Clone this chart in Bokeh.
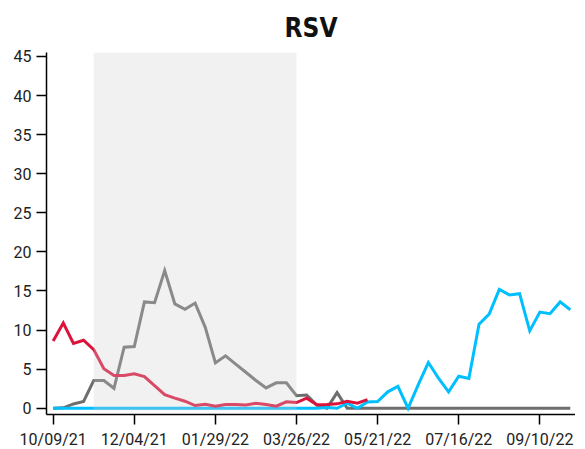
import datetime as dt
from bokeh.plotting import figure
from bokeh.models import Range1d, FixedTicker, DatetimeTickFormatter
from bokeh.embed import file_html
from bokeh.resources import INLINE

# ---- data ----
start = dt.datetime(2021, 10, 9)
weeks = [start + dt.timedelta(days=7 * i) for i in range(52)]

red_vals = [8.6, 10.9, 8.3, 8.7, 7.5, 5.05, 4.2, 4.2, 4.4, 4.05, 2.9, 1.75, 1.3, 0.9,
            0.35, 0.5, 0.26, 0.47, 0.47, 0.43, 0.64, 0.47, 0.26, 0.82, 0.73, 1.28,
            0.44, 0.47, 0.56, 0.9, 0.64, 1.1]
gray_vals = [0, 0.05, 0.55, 0.86, 3.55, 3.55, 2.55, 7.8, 7.9, 13.6, 13.5, 17.6, 13.35,
             12.65, 13.45, 10.35, 5.8, 6.7, 5.65, 4.6, 3.55, 2.6, 3.25, 3.25, 1.6, 1.7,
             0.4, 0, 2.0, 0, 0, 0, 0, 0, 0, 0, 0, 0, 0, 0, 0, 0, 0, 0, 0, 0, 0, 0, 0,
             0, 0, 0]
blue_vals = [0, 0, 0, 0, 0, 0, 0, 0, 0, 0, 0, 0, 0, 0, 0, 0, 0, 0, 0, 0, 0, 0, 0, 0,
             0, 0, 0, 0.1, 0, 0.64, 0, 0.8, 0.85, 2.1, 2.8, 0, 3.0, 5.85, 3.85, 2.1,
             4.1, 3.8, 10.75, 12.05, 15.2, 14.5, 14.65, 9.9, 12.3, 12.1, 13.6, 12.6]

tick_labels = ["10/09/21", "12/04/21", "01/29/22", "03/26/22", "05/21/22", "07/16/22", "09/10/22"]
y_ticks = [0, 5, 10, 15, 20, 25, 30, 35, 40, 45]
season_start = dt.datetime(2021, 11, 6)
season_end = dt.datetime(2022, 3, 26)

# ---- figure ----
epoch = dt.datetime(1970, 1, 1)
def ms(d):
    return (d - epoch).total_seconds() * 1000.0

tick_dates = [dt.datetime.strptime(t, "%m/%d/%y") for t in tick_labels]

p = figure(
    output_backend="svg", toolbar_location=None,
    frame_width=529, frame_height=362,
    x_axis_type="datetime",
    x_range=Range1d(start - dt.timedelta(days=4.6), start + dt.timedelta(days=360.6)),
    y_range=Range1d(-0.8, 45.5),
    min_border_left=0, min_border_right=0, min_border_top=0, min_border_bottom=0,
)
p.margin = (0, 0, 0, 10)
p.background_fill_color = "white"
p.border_fill_color = "white"
p.outline_line_color = None
p.xgrid.grid_line_color = None
p.ygrid.grid_line_color = None

p.title.text = "RSV"
p.title.align = "center"
p.title.text_font = "DejaVu Sans Condensed"
p.title.text_font_style = "bold"
p.title.text_font_size = "26px"
p.title.text_color = "#111111"
p.title.standoff = 20

p.line(weeks[:len(gray_vals)], gray_vals, line_color="#6e6e6e", line_width=3, line_join="miter")
p.line(weeks[:len(blue_vals)], blue_vals, line_color="#00bfff", line_width=3, line_join="miter")
p.line(weeks[:len(red_vals)], red_vals, line_color="#dc143c", line_width=3, line_join="miter")

p.quad(left=[season_start], right=[season_end], bottom=[-0.3], top=[45.5],
       fill_color="#cfcfcf", fill_alpha=0.29, line_color=None)

p.xaxis.ticker = FixedTicker(ticks=[ms(d) for d in tick_dates])
p.xaxis.formatter = DatetimeTickFormatter(days="%m/%d/%y", months="%m/%d/%y",
                                          years="%m/%d/%y", context=None)
p.yaxis.ticker = FixedTicker(ticks=y_ticks)

for ax in (p.xaxis[0], p.yaxis[0]):
    ax.axis_line_color = "black"
    ax.axis_line_width = 1.5
    ax.major_tick_line_color = "black"
    ax.major_tick_line_width = 1.5
    ax.major_tick_out = 10
    ax.major_tick_in = 0
    ax.minor_tick_line_color = None
    ax.major_label_text_font = "Roboto"
    ax.major_label_text_font_size = "16px"
    ax.major_label_text_color = "#222222"
    ax.major_label_standoff = 5

open("out.html", "w").write(file_html(p, INLINE))
